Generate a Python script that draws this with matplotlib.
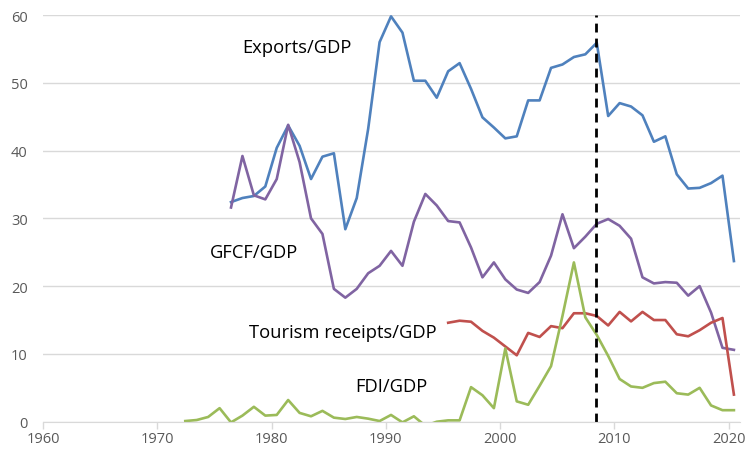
"""Exports, GFCF, tourism receipts and FDI as shares of GDP."""

import numpy as np
import matplotlib
matplotlib.use("Agg")
import matplotlib.pyplot as plt

exports_years = list(range(1976, 2021))
exports_gdp = [32.4, 33.0, 33.3, 34.7, 40.4, 43.7, 40.7, 35.8, 39.1, 39.6,
               28.4, 33.0, 43.2, 56.0, 59.8, 57.4, 50.3, 50.3, 47.8, 51.7,
               52.9, 49.1, 44.9, 43.4, 41.8, 42.1, 47.4, 47.4, 52.2, 52.7,
               53.8, 54.2, 55.9, 45.1, 47.0, 46.5, 45.2, 41.3, 42.1, 36.5,
               34.4, 34.5, 35.2, 36.3, 23.7]

gfcf_years = list(range(1976, 2021))
gfcf_gdp = [31.6, 39.2, 33.4, 32.8, 35.8, 43.8, 38.3, 30.0, 27.7, 19.6,
            18.3, 19.6, 21.9, 23.0, 25.2, 23.0, 29.5, 33.6, 31.9, 29.6,
            29.4, 25.7, 21.3, 23.5, 21.0, 19.5, 19.0, 20.6, 24.5, 30.6,
            25.6, 27.3, 29.2, 29.9, 28.9, 27.0, 21.3, 20.4, 20.6, 20.5,
            18.6, 20.0, 16.1, 10.9, 10.6]

tourism_years = list(range(1995, 2021))
tourism_gdp = [14.6, 14.9, 14.75, 13.4, 12.4, 11.1, 9.8, 13.1, 12.5, 14.1,
               13.8, 16.0, 16.0, 15.6, 14.2, 16.2, 14.8, 16.2, 15.0, 15.0,
               12.9, 12.6, 13.5, 14.6, 15.3, 4.0]

fdi_years = list(range(1972, 2021))
fdi_gdp = [0.1, 0.25, 0.7, 2.0, -0.1, 0.9, 2.2, 0.9, 1.0, 3.2,
           1.3, 0.8, 1.6, 0.6, 0.4, 0.7, 0.45, 0.1, 1.0, -0.1,
           0.8, -0.6, 0.0, 0.2, 0.2, 5.1, 3.9, 2.0, 10.8, 3.0,
           2.5, 5.3, 8.2, 15.6, 23.5, 15.4, 12.8, 9.7, 6.3, 5.2,
           5.0, 5.7, 5.9, 4.2, 4.0, 5.0, 2.4, 1.7, 1.7]

crisis_year = 2008
x_ticks = [1960, 1970, 1980, 1990, 2000, 2010, 2020]

# points sit about half a year right of the tick for their year
offset = 0.45

plt.rcParams["font.family"] = ["Open Sans", "DejaVu Sans"]

fig = plt.figure(figsize=(7.53, 4.52), dpi=100)
ax = fig.add_axes([0.0571, 0.0648, 0.9259, 0.8998])

lw = 1.9
ax.plot(np.array(exports_years) + offset, exports_gdp, color="#4F81BD", lw=lw)
ax.plot(np.array(gfcf_years) + offset, gfcf_gdp, color="#8064A2", lw=lw)
ax.plot(np.array(tourism_years) + offset, tourism_gdp, color="#C0504D", lw=lw)
ax.plot(np.array(fdi_years) + offset, fdi_gdp, color="#9BBB59", lw=lw)
ax.axvline(crisis_year + offset - 0.1, color="black", lw=2.0,
           linestyle=(0, (3.2, 2.2)))

label_size = 13.2
ax.text(1982.2, 55.3, "Exports/GDP", fontsize=label_size, ha="center", va="center")
ax.text(1978.5, 25.1, "GFCF/GDP", fontsize=label_size, ha="center", va="center")
ax.text(1986.2, 13.2, "Tourism receipts/GDP", fontsize=label_size,
        ha="center", va="center")
ax.text(1990.5, 5.3, "FDI/GDP", fontsize=label_size, ha="center", va="center")

ax.set_xlim(1960, 2021)
ax.set_ylim(0, 60)
ax.set_xticks(x_ticks)
ax.set_yticks(range(0, 61, 10))
ax.grid(axis="y", color="#d9d9d9", lw=1.0)
ax.set_axisbelow(True)
for side in ("left", "right", "top"):
    ax.spines[side].set_visible(False)
ax.spines["bottom"].set_color("#d9d9d9")
ax.tick_params(axis="x", colors="#d9d9d9", length=5, width=1.0, labelcolor="#595959",
               labelsize=10.5, pad=2)
ax.tick_params(axis="y", length=0, labelcolor="#595959", labelsize=10.5, pad=11)

fig.savefig("out.png", dpi=100)
